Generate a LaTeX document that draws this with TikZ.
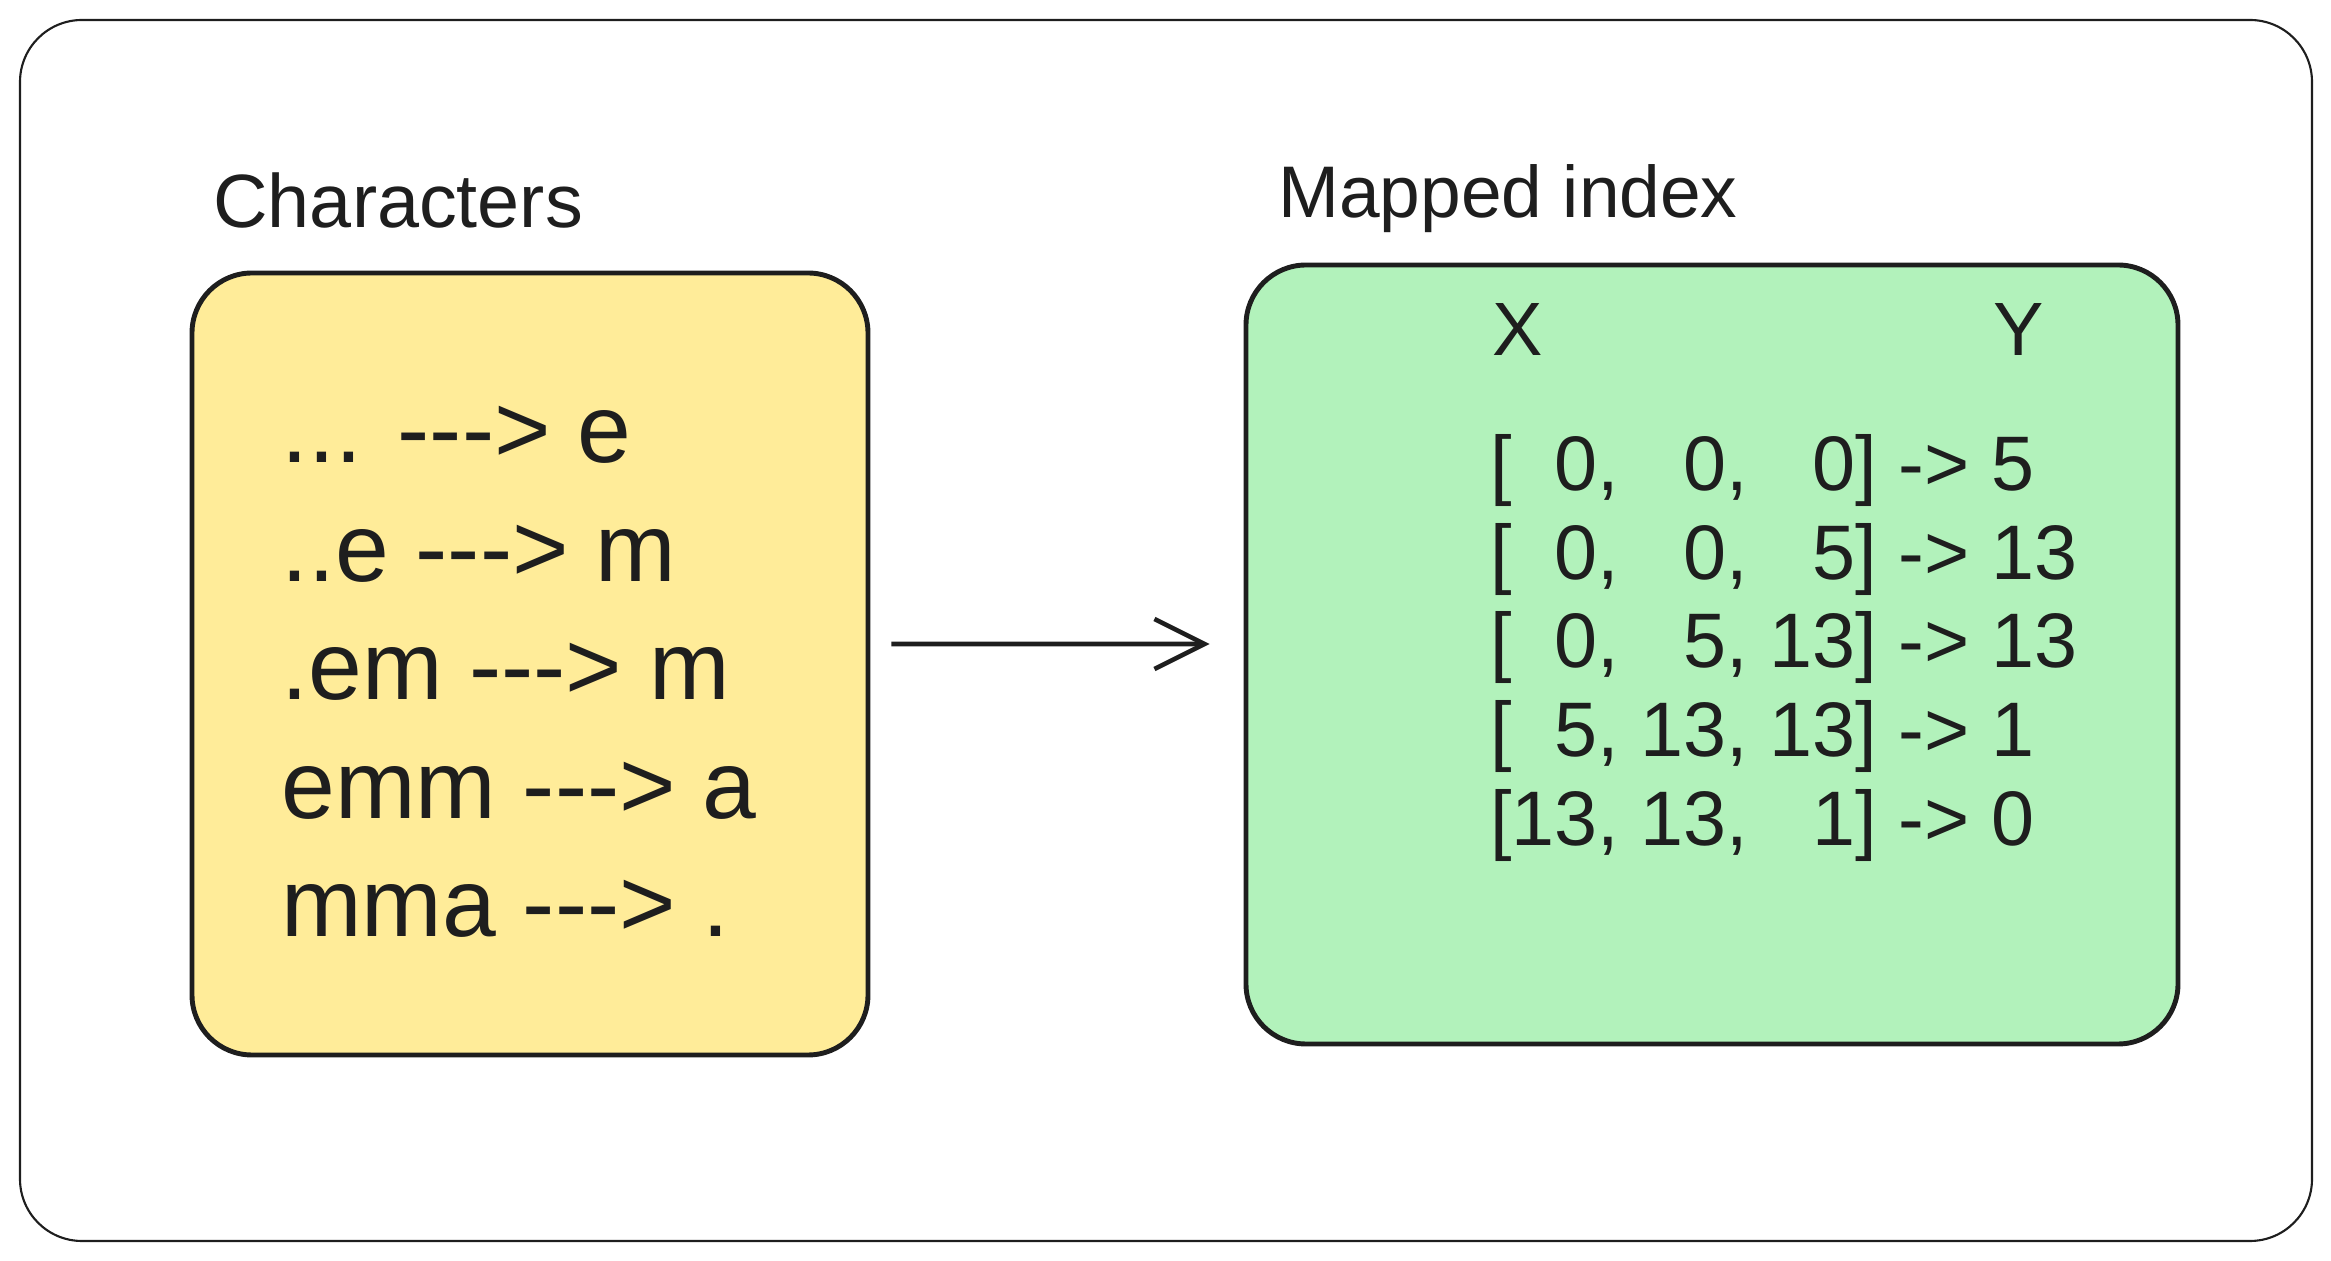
\documentclass[tikz,border=0pt]{standalone}
\usepackage{fontspec}
\setmainfont{Liberation Sans}[Ligatures=TeXOff]
\usetikzlibrary{arrows.meta,positioning}
\definecolor{ink}{HTML}{1E1E1E}
\definecolor{paleyellow}{HTML}{FFEC99}
\definecolor{palegreen}{HTML}{B2F2BB}
\tikzset{panel/.style={draw=ink,line width=1.4pt,rounded corners=6mm},head/.style={anchor=west,text=ink,font=\fontsize{21.5}{26}\selectfont},rows/.style={anchor=west,align=left,text=ink},arrow/.style={-{Straight Barb[length=5mm,width=5mm]},line width=1.3pt,draw=ink}}

\begin{document}
\begin{tikzpicture}
\useasboundingbox (0,0) rectangle (23.31,12.61);
\draw[ink,line width=0.6pt,rounded corners=6.2mm] (0.20,0.20) rectangle (23.12,12.41);
\node[panel,fill=paleyellow,minimum width=67.6mm,minimum height=78.2mm] (chars) at (5.30,5.97) {};
\node[panel,fill=palegreen,minimum width=93.2mm,minimum height=77.9mm] (idx) at (17.12,6.065) {};
\node[head] (charslbl) at (2.01,10.60) {Characters};
\node[head,font=\fontsize{20.8}{26}\selectfont] (idxlbl) at (12.66,10.62) {Mapped index};
\node[rows,font=\fontsize{27.5}{33.7}\selectfont] (pairs) at (2.69,5.89) {... ---> e\\..e ---> m\\.em ---> m\\emm ---> a\\mma ---> .};
\node[head,anchor=center] (xlbl) at (15.18,9.31) {X};
\node[head,anchor=center] (ylbl) at (20.19,9.31) {Y};
\node[rows,font=\fontsize{22}{25.3}\selectfont] (vals) at (14.78,6.13) {{[}\phantom{1}0, \phantom{1}0, \phantom{1}0] -> 5\\{[}\phantom{1}0, \phantom{1}0, \phantom{1}5] -> 13\\{[}\phantom{1}0, \phantom{1}5, 13] -> 13\\{[}\phantom{1}5, 13, 13] -> 1\\{[}13, 13, \phantom{1}1] -> 0};
\draw[arrow] ([xshift=2.1mm,yshift=2mm]chars.east)--([xshift=-3.4mm,yshift=1.05mm]idx.west);
\end{tikzpicture}
\end{document}
